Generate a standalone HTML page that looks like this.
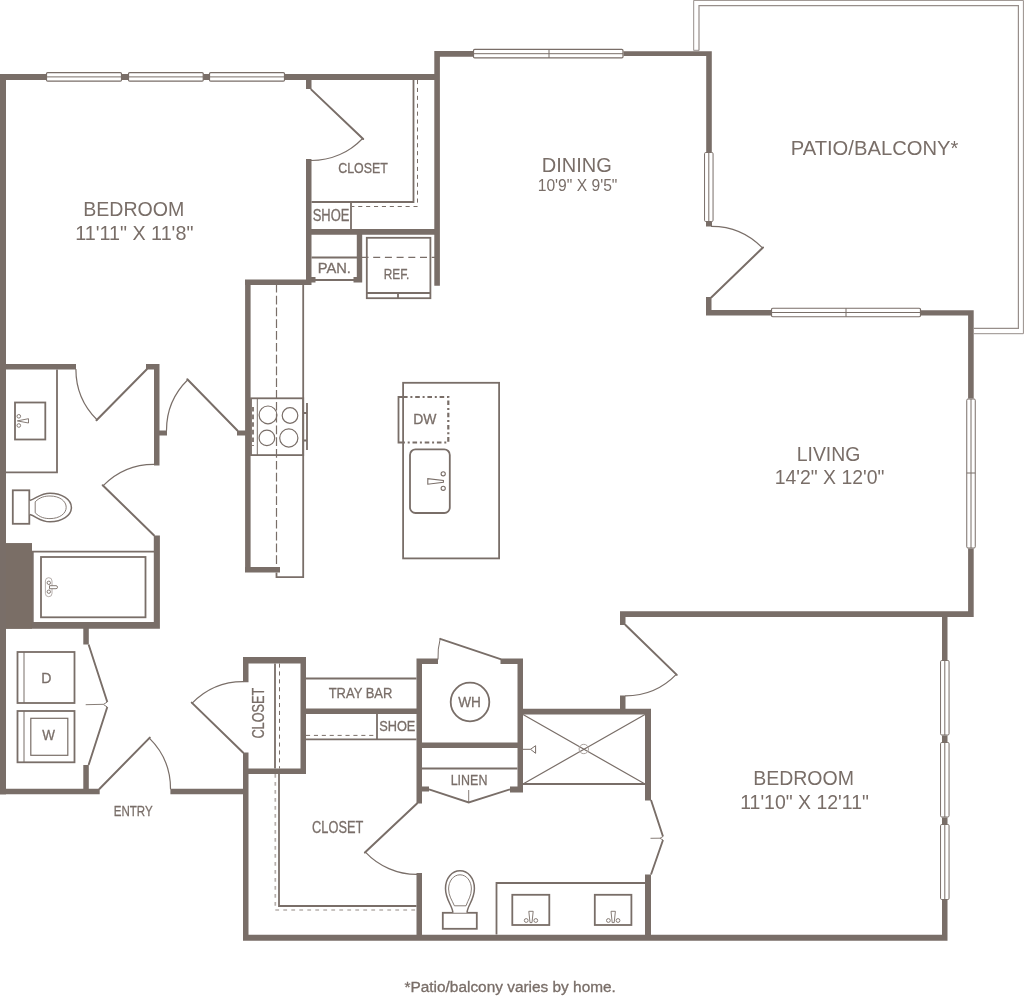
<!DOCTYPE html>
<html lang="en"><head><meta charset="utf-8"><title>Floor plan</title>
<style>
html,body{margin:0;padding:0;background:#fff;}
body{width:1024px;height:996px;overflow:hidden;font-family:"Liberation Sans",Arial,sans-serif;}
svg{display:block;will-change:transform;}
</style></head><body>
<svg width="1024" height="996" viewBox="0 0 1024 996">
<path fill="#796e68" d="M0 74H6V794.5H0Z M0 74H46V80H0Z M122 74H128V80H122Z M203 74H209V80H203Z M285 74H439.9V80H285Z M434.3 51H439.9V285.8H434.3Z M434.3 51H473V56.7H434.3Z M623.5 51.2H711.8V56H623.5Z M706.2 51.2H711.8V152H706.2Z M706 222H712V226.5H706Z M706 297H711.5V315.5H706Z M706 310H771V315.5H706Z M921 310.2H973.7V315.6H921Z M968.1 310.2H973.7V398.5H968.1Z M968.1 548.5H973.7V617H968.1Z M620 611.2H973.7V617H620Z M620 611.2H625.5V625H620Z M620 695.5H625.5V711H620Z M942 614H947.5V660H942Z M942 735.5H947.5V742H942Z M942 817.5H947.5V824H942Z M942 900H947.5V940.7H942Z M243 934.8H947.5V940.7H243Z M243 752.5H248.5V940.7H243Z M0 788.7H99.7V794.3H0Z M170.4 788.7H248.5V794.3H170.4Z M83.3 765H88.8V791H83.3Z M83.3 625H88.8V644.5H83.3Z M0 364H76V369.5H0Z M146 364H159.5V369.5H146Z M154 364H159.5V465.5H154Z M157 430.5H167V435.5H157Z M237 430.5H248V435.5H237Z M0 543.2H32V628.7H0Z M153.8 535.5H159.9V628.7H153.8Z M0 622H159.9V628.7H0Z M245.1 279.5H250.6V572.5H245.1Z M245 279.5H311.5V285H245Z M245 567H280V572.5H245Z M306 77H311.5V89H306Z M306 159H311.5V285H306Z M306 229H439.9V234.8H306Z M356.8 232H362.2V282.5H356.8Z M310.5 277H315.5V282.5H310.5Z M353.5 277H362.2V282.5H353.5Z M243 657H305.5V663.5H243Z M243 657H248.5V682.2H243Z M300.5 657H306V774H300.5Z M243 768.5H306V774H243Z M303 708.5H419V714H303Z M416.5 658.6H422V803.5H416.5Z M416.5 658.6H438V664H416.5Z M500.5 658.6H523V664H500.5Z M517.5 658.6H523V792.4H517.5Z M419 742.5H520V748H419Z M419 786.6H429V791.5H419Z M510 786.6H520V792.4H510Z M520 708.7H651V714.4H520Z M416.5 873H422V937H416.5Z M645 708.7H651V800.5H645Z M645 874.5H651V937H645Z"/>
<rect x="6" y="543.2" width="26" height="85.5" fill="#7a6e66"/>
<rect x="46.5" y="72.65" width="75" height="8.5" rx="1.2" fill="#fff" stroke="#796e68" stroke-width="1.2"/>
<line x1="46.5" y1="76.9" x2="121.5" y2="76.9" stroke="#796e68" stroke-width="1"/>
<rect x="128.5" y="72.65" width="74.75" height="8.5" rx="1.2" fill="#fff" stroke="#796e68" stroke-width="1.2"/>
<line x1="128.5" y1="76.9" x2="203.25" y2="76.9" stroke="#796e68" stroke-width="1"/>
<rect x="209.5" y="72.65" width="75" height="8.5" rx="1.2" fill="#fff" stroke="#796e68" stroke-width="1.2"/>
<line x1="209.5" y1="76.9" x2="284.5" y2="76.9" stroke="#796e68" stroke-width="1"/>
<rect x="473.5" y="49.45" width="149.5" height="8.5" rx="1.2" fill="#fff" stroke="#796e68" stroke-width="1.2"/>
<line x1="473.5" y1="53.7" x2="623.0" y2="53.7" stroke="#796e68" stroke-width="1"/>
<line x1="549" y1="49.45" x2="549" y2="57.95" stroke="#796e68" stroke-width="1"/>
<rect x="771.5" y="308.25" width="149" height="8.5" rx="1.2" fill="#fff" stroke="#796e68" stroke-width="1.2"/>
<line x1="771.5" y1="312.5" x2="920.5" y2="312.5" stroke="#796e68" stroke-width="1"/>
<line x1="846" y1="308.25" x2="846" y2="316.75" stroke="#796e68" stroke-width="1"/>
<rect x="704.55" y="152.5" width="8.5" height="69" rx="1.2" fill="#fff" stroke="#796e68" stroke-width="1"/>
<line x1="708.8" y1="152.5" x2="708.8" y2="221.5" stroke="#796e68" stroke-width="1"/>
<rect x="966.75" y="399.0" width="8.5" height="149.0" rx="1.2" fill="#fff" stroke="#796e68" stroke-width="1"/>
<line x1="971" y1="399.0" x2="971" y2="548.0" stroke="#796e68" stroke-width="1"/>
<line x1="966.75" y1="473" x2="975.25" y2="473" stroke="#796e68" stroke-width="1"/>
<rect x="940.55" y="660.5" width="8.5" height="74.5" rx="1.2" fill="#fff" stroke="#796e68" stroke-width="1"/>
<line x1="944.8" y1="660.5" x2="944.8" y2="735.0" stroke="#796e68" stroke-width="1"/>
<rect x="940.55" y="742.5" width="8.5" height="74.5" rx="1.2" fill="#fff" stroke="#796e68" stroke-width="1"/>
<line x1="944.8" y1="742.5" x2="944.8" y2="817.0" stroke="#796e68" stroke-width="1"/>
<rect x="940.55" y="824.5" width="8.5" height="75" rx="1.2" fill="#fff" stroke="#796e68" stroke-width="1"/>
<line x1="944.8" y1="824.5" x2="944.8" y2="899.5" stroke="#796e68" stroke-width="1"/>
<g fill="none" stroke="#978e8a" stroke-width="1">
<path d="M693.7 50.5 V0.4 H1023.4 V333.7 H973.5"/>
<path d="M699 50.5 V5.6 H1018.4 V328.4 H973.5" stroke-width="1.2"/>
<path d="M693.7 50.3 H699"/>
</g>
<g fill="none" stroke="#796e68" stroke-linecap="round" stroke-linejoin="round">
<path d="M311.3 89.6 L363.2 139.0" stroke-width="2"/>
<path d="M362.6 138.5 A70.9 70.9 0 0 1 311.3 160.5" stroke-width="1.2"/>
<path d="M146.8 369.3 L96.5 420.3" stroke-width="2"/>
<path d="M97.0 419.8 A70.9 70.9 0 0 1 75.9 369.3" stroke-width="1.2"/>
<path d="M237.4 430.5 L187.3 379.3" stroke-width="2"/>
<path d="M187.8 379.8 A70.9 70.9 0 0 0 166.5 430.5" stroke-width="1.2"/>
<path d="M153.9 535.3 L102.7 485.2" stroke-width="2"/>
<path d="M103.2 485.7 A70.9 70.9 0 0 1 153.9 464.4" stroke-width="1.2"/>
<path d="M711.5 297.2 L763.0 247.5" stroke-width="2"/>
<path d="M762.5 247.9 A70.9 70.9 0 0 0 711.5 226.3" stroke-width="1.2"/>
<path d="M625.5 625.0 L676.8 674.9" stroke-width="2"/>
<path d="M676.3 674.4 A70.9 70.9 0 0 1 625.5 695.9" stroke-width="1.2"/>
<path d="M417.0 803.5 L364.9 852.6" stroke-width="2"/>
<path d="M365.4 852.1 A70.9 70.9 0 0 0 417.0 874.4" stroke-width="1.2"/>
<path d="M99.6 788.7 L149.8 737.6" stroke-width="2"/>
<path d="M149.3 738.1 A70.9 70.9 0 0 1 170.5 788.7" stroke-width="1.2"/>
<path d="M243.0 752.5 L191.7 702.6" stroke-width="2"/>
<path d="M192.2 703.1 A70.9 70.9 0 0 1 243.0 681.6" stroke-width="1.2"/>
</g>
<g fill="none" stroke="#796e68" stroke-width="1.8">
<path d="M413.5 80 V202 H311.5"/>
<path d="M351 202 V229"/>
<path d="M311.5 257.5 H357"/>
<path d="M315 280 H354"/>
<rect x="366.8" y="237.8" width="63.6" height="60.4"/>
<path d="M366.8 293 H430.4 M398 293 V298.2"/>
<path d="M303.2 285 V577.2 H276.5 V572.5"/>
<rect x="251" y="398.3" width="52.2" height="56.8"/>
<path d="M303.2 413 H307 M303.2 440.5 H307 M307 403 V450"/>
<rect x="403.1" y="382.8" width="96" height="175.6"/>
<path d="M403 397 H398.5 V442.5 H403"/>
<rect x="410" y="449.4" width="39.8" height="63.6" rx="5.5" stroke-width="1.8"/>
<path d="M57 369.5 V472.3 H6"/>
<rect x="15" y="402.5" width="30.3" height="37"/>
<rect x="12.8" y="490.3" width="16.5" height="33.5"/>
<path d="M32.8 628 V551.7 H154"/>
<rect x="41" y="557" width="104.5" height="60.3" stroke-width="1.8"/>
<rect x="17.5" y="652" width="57" height="51"/>
<rect x="17.5" y="711" width="57" height="51.3"/>
<rect x="30.8" y="718.3" width="37" height="37" stroke-width="1.2"/>
<path d="M275 663.5 V768.5"/>
<path d="M306 678.5 H416.5 M306 739.3 H416.5 M377 714 V739.3"/>
<path d="M422 768.5 H517.5"/>
<path d="M279 774 V906 H416.5"/>
<path d="M523 784 H645"/>
<path d="M645 883 H496.5 V934.5"/>
<rect x="512.3" y="894.8" width="37" height="30.2"/>
<rect x="594.8" y="894.8" width="36.6" height="30.2"/>
<rect x="442.8" y="912.8" width="34" height="16"/>
<circle cx="470" cy="702" r="19.3"/>
</g>
<g fill="none" stroke="#796e68" stroke-width="1">
<path d="M24 652 V703 M24 711 V762.3"/>
<path d="M257.3 398.3 V455"/>
<circle cx="268" cy="414.9" r="8.9" stroke-width="1.2"/><circle cx="290" cy="415.5" r="7.8" stroke-width="1.2"/>
<circle cx="266.9" cy="437.9" r="7.8" stroke-width="1.2"/><circle cx="288.8" cy="438" r="9.1" stroke-width="1.2"/>
<path d="M253 407 V446" stroke-width="1.8" stroke-dasharray="4.6 3"/>
<path d="M523 714.5 L645 784 M645 714.5 L523 784" stroke-width="1.2"/>
<circle cx="583.8" cy="749" r="4.7" stroke="#aaa29e"/>
<path d="M523 749.3 H530.5 M535.6 745.7 V753.3 L530.5 749.3 Z"/>
<path d="M438 659.5 Q437.5 649 440.2 638.8" />
</g>
<path d="M440.2 638.8 L500.5 659.2" fill="none" stroke="#796e68" stroke-width="1.8" stroke-linecap="round"/>
<g fill="none" stroke="#796e68" stroke-width="1.9" stroke-linejoin="miter">
<path d="M88.6 644.5 L107.3 702 M107.3 707 L88.6 765"/>
<path d="M651 800 L663 836.5 M663 840 L651 874.5"/>
<path d="M429 789.3 L468.7 802.5 L510 789.3"/>
</g>
<g fill="none" stroke="#796e68" stroke-width="0.9">
<path d="M85.7 704.7 L103.5 704.3 L107.3 702 M103.5 704.6 L107.3 707"/>
<path d="M650.5 838.3 L660 838.2 L663 836.5 M660 838.3 L663 840"/>
<path d="M468.7 790 V802.5"/>
</g>
<g fill="none" stroke="#796e68" stroke-width="1">
<path d="M417.5 80 V206.5 H352" stroke-dasharray="4.1 3.8"/>
<path d="M361.5 257.4 H435" stroke-dasharray="7 4.7" stroke-width="1.2"/>
<path d="M276.5 285 V567" stroke-dasharray="8.7 3.1" stroke-dashoffset="1.1" stroke-width="1.2"/>
<path d="M279.5 663.5 V768.5" stroke-dasharray="4.1 3.8"/>
<path d="M306 735.4 H377" stroke-dasharray="4.1 3.8"/>
<path d="M275.3 774 V910 H416.5" stroke-dasharray="3.8 4.2" stroke="#b7b0ac" stroke-width="1.7"/>
</g>
<path d="M403 397 H448.3 V442.5 H403" fill="none" stroke="#796e68" stroke-width="2.2" stroke-dasharray="4.6 2.8 2 2.8"/>
<g fill="#fff" stroke="#796e68" stroke-width="1.2">
<path d="M29.8 500.4 C36 499 40 493.2 50 493.2 C62 493.2 71.4 499.5 71.4 507.5 C71.4 515.5 62 521.8 50 521.8 C40 521.8 36 516 29.8 514.6" stroke-width="1.5"/>
<path d="M35.2 501.8 C40 497 45 496 50 496 C59.5 496 66.2 501 66.2 507.3 C66.2 513.6 59.5 518.6 50 518.6 C45 518.6 40 517.6 35.2 512.8 Z" stroke-width="0.9"/>
<path d="M452.9 912.8 C452.5 905.5 445.5 900 445.5 888.5 C445.5 878 452 870.8 460 870.8 C468 870.8 474.4 878 474.4 888.5 C474.4 900 467.4 905.5 467 912.8" stroke-width="1.5"/>
<path d="M454.4 905.8 C452 900 448.6 896 448.6 889 C448.6 881 453.5 874.8 460 874.8 C466.5 874.8 471.4 881 471.4 889 C471.4 896 468 900 466 905.8 Z" stroke-width="0.9"/>
</g>
<g fill="#fff" stroke="#796e68" stroke-width="0.9">
<path d="M17.3 420.9 L28.5 418.7 V423 Z"/><circle cx="18.8" cy="416.3" r="1.8"/><circle cx="18.8" cy="425.5" r="1.8"/>
<path d="M427.8 478.6 V484.2 L443.4 482.2 V480.4 Z" stroke-width="1.1"/><circle cx="443.2" cy="473.8" r="2.1" stroke-width="1.1"/><circle cx="443.2" cy="488.3" r="2.1" stroke-width="1.1"/>
<path d="M528.8 911.3 H533.2 L532 922.6 H530 Z"/><circle cx="526.2" cy="920.5" r="1.9"/><circle cx="535.8" cy="920.5" r="1.9"/>
<path d="M611.0 911.3 H615.4000000000001 L614.2 922.6 H612.2 Z"/><circle cx="608.4000000000001" cy="920.5" r="1.9"/><circle cx="618.0" cy="920.5" r="1.9"/>
<rect x="45.4" y="577.7" width="6.6" height="19" rx="3.3" stroke="#a39b97" stroke-width="0.8"/>
<circle cx="48.8" cy="582.8" r="1.7"/><circle cx="48.8" cy="591.7" r="1.7"/>
<path d="M49.5 585.7 H56 A1.5 1.5 0 0 1 56 588.7 H49.5 Z"/>
</g>
<g fill="#796e68" font-family="'Liberation Sans', Arial, sans-serif">
<text x="83.2" y="215.5" font-size="20.19" textLength="101.2" lengthAdjust="spacingAndGlyphs">BEDROOM</text>
<text x="75.2" y="239.5" font-size="20.6" textLength="118.2" lengthAdjust="spacingAndGlyphs">11'11" X 11'8"</text>
<text x="541.7" y="171.5" font-size="20.6" textLength="70.2" lengthAdjust="spacingAndGlyphs">DINING</text>
<text x="537.7" y="190.5" font-size="17.0" textLength="79.7" lengthAdjust="spacingAndGlyphs">10'9" X 9'5"</text>
<text x="790.7" y="154.5" font-size="21.12" textLength="167.7" lengthAdjust="spacingAndGlyphs">PATIO/BALCONY*</text>
<text x="796.7" y="460.5" font-size="20.6" textLength="63.7" lengthAdjust="spacingAndGlyphs">LIVING</text>
<text x="774.7" y="484" font-size="21.12" textLength="109.7" lengthAdjust="spacingAndGlyphs">14'2" X 12'0"</text>
<text x="753.2" y="784.5" font-size="20.19" textLength="100.7" lengthAdjust="spacingAndGlyphs">BEDROOM</text>
<text x="740.2" y="808.5" font-size="20.6" textLength="128.7" lengthAdjust="spacingAndGlyphs">11'10" X 12'11"</text>
<text x="338.2" y="173.3" font-size="15.3" textLength="49.7" lengthAdjust="spacingAndGlyphs" stroke="#796e68" stroke-width="0.3">CLOSET</text>
<text x="312.7" y="220.8" font-size="15.82" textLength="36.7" lengthAdjust="spacingAndGlyphs" stroke="#796e68" stroke-width="0.3">SHOE</text>
<text x="317.7" y="272.8" font-size="15.3" textLength="33.2" lengthAdjust="spacingAndGlyphs" stroke="#796e68" stroke-width="0.3">PAN.</text>
<text x="383.7" y="279.3" font-size="15.3" textLength="25.7" lengthAdjust="spacingAndGlyphs" stroke="#796e68" stroke-width="0.3">REF.</text>
<text x="413.2" y="423.8" font-size="14.77" textLength="23.2" lengthAdjust="spacingAndGlyphs" stroke="#796e68" stroke-width="0.3">DW</text>
<text x="41.2" y="682.8" font-size="15.3" textLength="10.2" lengthAdjust="spacingAndGlyphs" stroke="#796e68" stroke-width="0.3">D</text>
<text x="42.2" y="740.3" font-size="15.3" textLength="12.7" lengthAdjust="spacingAndGlyphs" stroke="#796e68" stroke-width="0.3">W</text>
<text x="328.7" y="698.3" font-size="15.3" textLength="63.7" lengthAdjust="spacingAndGlyphs" stroke="#796e68" stroke-width="0.3">TRAY BAR</text>
<text x="379.2" y="731.3" font-size="14.77" textLength="36.2" lengthAdjust="spacingAndGlyphs" stroke="#796e68" stroke-width="0.3">SHOE</text>
<text x="458.2" y="706.8" font-size="14.77" textLength="22.7" lengthAdjust="spacingAndGlyphs" stroke="#796e68" stroke-width="0.3">WH</text>
<text x="450.7" y="784.8" font-size="14.77" textLength="36.7" lengthAdjust="spacingAndGlyphs" stroke="#796e68" stroke-width="0.3">LINEN</text>
<text x="312.1" y="832.7" font-size="16.25" textLength="51.2" lengthAdjust="spacingAndGlyphs" stroke="#796e68" stroke-width="0.3">CLOSET</text>
<text x="113.8" y="816.3" font-size="14.98" textLength="38.9" lengthAdjust="spacingAndGlyphs" stroke="#796e68" stroke-width="0.3">ENTRY</text>
<text x="404.5" y="991.9" font-size="14.45" textLength="211.4" lengthAdjust="spacingAndGlyphs" stroke="#796e68" stroke-width="0.3">*Patio/balcony varies by home.</text>
<text transform="translate(264.4 738.6) rotate(-90)" font-size="16.6" textLength="51" stroke="#796e68" stroke-width="0.3" lengthAdjust="spacingAndGlyphs">CLOSET</text>
</g>
</svg>
</body></html>
